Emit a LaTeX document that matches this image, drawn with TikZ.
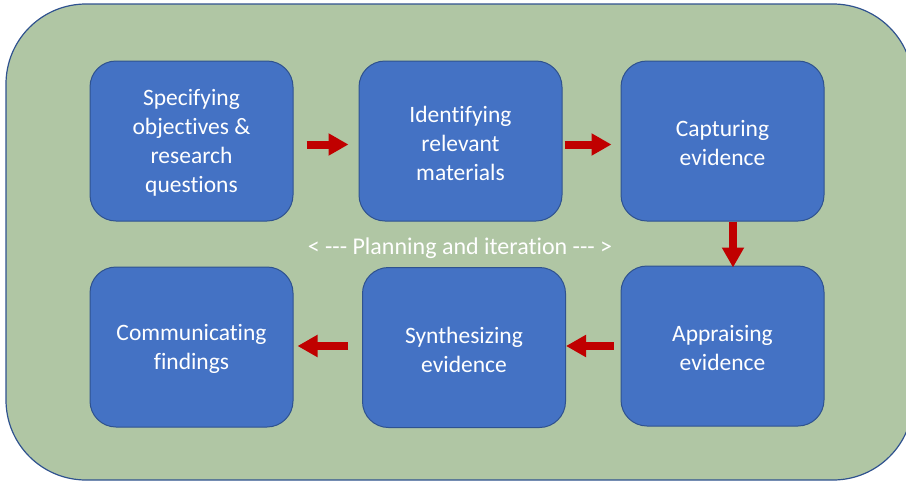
\documentclass[tikz,border=0pt]{standalone}
\usepackage{fontspec}
\setmainfont{Carlito}[Ligatures={TeXOff,CommonOff}]
\usetikzlibrary{arrows.meta}
\definecolor{bggreen}{HTML}{B0C6A4}
\definecolor{frameblue}{HTML}{2F528F}
\definecolor{boxblue}{HTML}{4472C4}
\definecolor{arrred}{HTML}{C00000}
\tikzset{
  stepbox/.style={draw=frameblue, line width=1pt, fill=boxblue, rounded corners=26pt,
    minimum width=203pt, minimum height=160pt, inner sep=0pt, text=white,
    align=center, font=\fontsize{23.5}{29}\selectfont},
  redarrow/.style={draw=arrred, line width=8pt,
    -{Triangle[length=20pt,width=21pt]}, arrred},
}
\begin{document}
\begin{tikzpicture}[x=1pt,y=-1pt]
\useasboundingbox (0,0) rectangle (906,483);
\draw[frameblue, line width=1.2pt, fill=bggreen, rounded corners=80pt] (6,4) rectangle (913,480);
\node[stepbox] (b1) at (191.5,141) {\strut Specifying\\objectives \&\\research\\questions};
\node[stepbox] (b2) at (460.5,141) {\strut Identifying\\relevant\\materials};
\node[stepbox] (b3) at (722.5,141) {\strut Capturing\\evidence};
\node[stepbox] (b4) at (722.5,346) {\strut Appraising\\evidence};
\node[stepbox] (b5) at (464,347.5) {\strut Synthesizing\\evidence};
\node[stepbox] (b6) at (191.5,347) {\strut Communicating\\findings};
\node[text=white, font=\fontsize{24}{28}\selectfont] (lbl) at (460,248) {< --- Planning and iteration --- >};
\draw[redarrow, shorten <=13pt, shorten >=10pt] ([yshift=-3.5pt]b1.east) -- ([yshift=-3.5pt]b2.west);
\draw[redarrow, shorten <=2pt, shorten >=9pt] ([yshift=-3.5pt]b2.east) -- ([yshift=-3.5pt]b3.west);
\draw[redarrow, shorten >=-2pt] ([xshift=10.5pt]b3.south) -- ([xshift=10.5pt]b4.north);
\draw[redarrow, shorten <=7pt, shorten >=0pt] (b4.west) -- (b4.west -| b5.east);
\draw[redarrow, shorten <=14pt, shorten >=4pt] (b5.west |- b4.west) -- (b4.west -| b6.east);
\end{tikzpicture}
\end{document}
